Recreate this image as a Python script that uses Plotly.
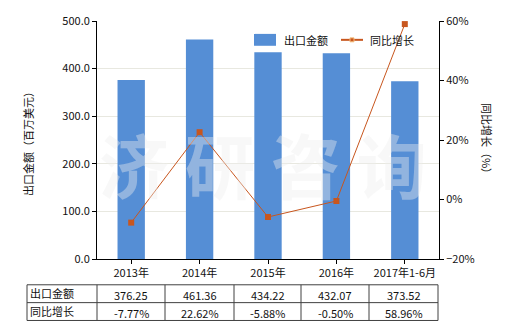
import plotly.graph_objects as go

categories = ["2013年", "2014年", "2015年", "2016年", "2017年1-6月"]
export_values = [376.25, 461.36, 434.22, 432.07, 373.52]
growth_values = [-7.77, 22.62, -5.88, -0.50, 58.96]
export_labels = ["376.25", "461.36", "434.22", "432.07", "373.52"]
growth_labels = ["-7.77%", "22.62%", "-5.88%", "-0.50%", "58.96%"]

FONT = "Noto Sans CJK SC"
W, H = 520, 330
L, R, T, B = 97, 439, 19, 259
BAR_COLOR = "#558ED5"
LINE_COLOR = "#C8561E"


def px(x):
    return (x - L) / (R - L)


def py(y):
    return (B - y) / (B - T)


fig = go.Figure()
fig.add_trace(go.Bar(
    x=categories, y=export_values, name="出口金额",
    marker=dict(color=BAR_COLOR, line=dict(width=0)),
    width=0.4, yaxis="y",
))
fig.add_trace(go.Scatter(
    x=categories, y=growth_values, name="同比增长",
    mode="lines+markers",
    line=dict(color=LINE_COLOR, width=1),
    marker=dict(symbol="square", size=6, color=LINE_COLOR),
    yaxis="y2",
))

shapes = []
annotations = []


def text(t, x, y, size=11, color="#111", xanchor="center", angle=0, weight="normal"):
    annotations.append(dict(text=t, x=px(x), y=py(y), xref="paper", yref="paper",
                            xanchor=xanchor, yanchor="middle", textangle=angle,
                            showarrow=False,
                            font=dict(family=FONT, size=size, color=color, weight=weight)))


# watermark
text("济 研 咨 询", 263, 163, size=70, color="rgba(238,238,238,0.4)", weight="bold")

# custom legend
shapes.append(dict(type="rect", xref="paper", yref="paper", x0=px(254), x1=px(276),
                   y0=py(44), y1=py(32), fillcolor=BAR_COLOR, line=dict(width=0), layer="above"))
text("出口金额", 282, 38, xanchor="left")
shapes.append(dict(type="line", xref="paper", yref="paper", x0=px(341), x1=px(363),
                   y0=py(38), y1=py(38), line=dict(color=LINE_COLOR, width=2), layer="above"))
shapes.append(dict(type="rect", xref="paper", yref="paper", x0=px(350), x1=px(354),
                   y0=py(40), y1=py(36), fillcolor=LINE_COLOR, line=dict(color="#F5C080", width=1),
                   layer="above"))
text("同比增长", 368, 38, xanchor="left")

# table
col_edges = [27, 97, 165, 234, 301, 369, 438]
row_edges = [285, 303, 321]
line = dict(color="#404040", width=1)
for x in col_edges:
    shapes.append(dict(type="line", xref="paper", yref="paper",
                       x0=px(x), x1=px(x), y0=py(row_edges[0]), y1=py(row_edges[-1]), line=line))
for y in row_edges:
    shapes.append(dict(type="line", xref="paper", yref="paper",
                       x0=px(col_edges[0]), x1=px(col_edges[-1]), y0=py(y), y1=py(y), line=line))

row_titles = ["出口金额", "同比增长"]
rows = [export_labels, growth_labels]
for ri, (title, vals) in enumerate(zip(row_titles, rows)):
    yc = (row_edges[ri] + row_edges[ri + 1]) / 2
    text(title, col_edges[0] + 1, yc - 1, xanchor="left")
    for ci, v in enumerate(vals):
        xc = (col_edges[ci + 1] + col_edges[ci + 2]) / 2
        text(v, xc, yc + 1)

# axis titles
text("出口金额（百万美元）", 28, 140, angle=-90)
text("同比增长（%）", 487, 140, angle=90)

fig.update_layout(
    width=W, height=H,
    margin=dict(l=L, r=W - R, t=T, b=H - B, pad=0),
    paper_bgcolor="white", plot_bgcolor="white",
    font=dict(family=FONT, size=11, color="#222"),
    showlegend=False,
    xaxis=dict(showline=True, linecolor="#000", linewidth=1, ticks="outside", ticklen=4,
               tickcolor="#000", tickfont=dict(family=FONT, size=11, color="#111"),
               showgrid=False, zeroline=False),
    yaxis=dict(range=[0, 500], dtick=100, tickformat=".1f", showline=True, linecolor="#000",
               linewidth=1, ticks="outside", ticklen=4, tickcolor="#000",
               showgrid=True, gridcolor="#E8E8E0", gridwidth=1, zeroline=False,
               tickfont=dict(family=FONT, size=11, color="#111")),
    yaxis2=dict(range=[-20, 60], dtick=20, ticksuffix="%", overlaying="y", side="right",
                showline=True, linecolor="#000", linewidth=1, ticks="outside", ticklen=4,
                tickcolor="#000", showgrid=False, zeroline=False,
                tickfont=dict(family=FONT, size=11, color="#111")),
    shapes=shapes, annotations=annotations,
)

fig.write_html("out.html")
